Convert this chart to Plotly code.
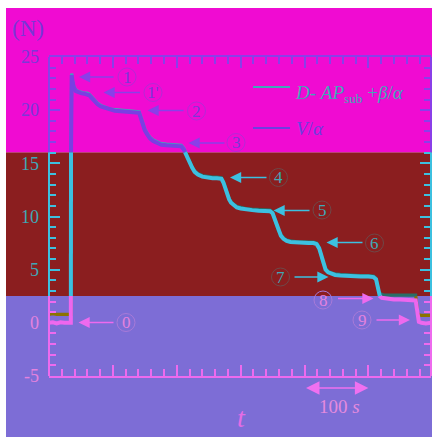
import plotly.graph_objects as go

# ---------------- data ----------------
time_s = [0, 6, 12, 18, 24, 30, 34.2, 34.6, 35.5, 37, 39, 42, 46, 50, 55, 60, 63, 66, 69, 72,
          76, 81, 88, 95, 103, 112, 120, 128, 136, 141, 143, 145, 147.5, 150, 154, 158, 163,
          169, 176, 184, 192, 200, 207, 211, 214, 217, 220, 224, 228, 233, 240, 248, 256, 263,
          270, 273, 276, 279, 282, 285, 289, 294, 300, 308, 318, 328, 338, 346, 350, 353, 356,
          359, 363, 367, 372, 378, 386, 396, 406, 414, 419, 423, 426, 429, 433, 437, 442, 448,
          456, 466, 476, 488, 500, 508, 512, 514, 516, 518, 521, 525, 532, 540, 550, 560, 568,
          574, 575.5, 577, 579, 583, 590, 598]

v_over_alpha = [0.0, 0.05, -0.05, 0.05, 0.0, 0.05, 0.0, 23.0, 23.3, 22.6, 22.1, 21.8, 21.65,
                21.6, 21.55, 21.5, 21.4, 21.2, 21.0, 20.8, 20.55, 20.35, 20.2, 20.05, 19.95,
                19.9, 19.85, 19.85, 19.8, 19.75, 19.4, 19.0, 18.5, 18.1, 17.7, 17.35, 17.1,
                16.9, 16.75, 16.7, 16.65, 16.65, 16.6, 16.3, 15.9, 15.4, 15.0, 14.6, 14.2,
                13.95, 13.75, 13.65, 13.6, 13.6, 13.55, 13.2, 12.6, 12.0, 11.6, 11.3, 11.05,
                10.85, 10.75, 10.65, 10.6, 10.55, 10.55, 10.5, 10.3, 9.8, 9.2, 8.6, 8.2, 7.9,
                7.7, 7.6, 7.55, 7.55, 7.5, 7.5, 7.4, 7.0, 6.3, 5.6, 5.0, 4.75, 4.6, 4.5, 4.45,
                4.4, 4.4, 4.35, 4.35, 4.3, 4.1, 3.4, 2.8, 2.5, 2.35, 2.3, 2.25, 2.2, 2.2, 2.15,
                2.15, 2.1, 1.5, 0.5, 0.1, 0.0, -0.05, 0.0]

d_ap_sub = [0.8, 0.85, 0.8, 0.8, 0.85, 0.8, 0.8, 23.1, 23.45, 22.7, 22.2, 21.9, 21.75,
            21.7, 21.6, 21.6, 21.5, 21.3, 21.1, 20.9, 20.65, 20.45, 20.3, 20.1, 20.05,
            20.0, 19.95, 19.9, 19.9, 19.85, 19.5, 19.1, 18.6, 18.2, 17.8, 17.45, 17.2,
            17.0, 16.85, 16.8, 16.75, 16.7, 16.7, 16.4, 16.0, 15.5, 15.1, 14.7, 14.3,
            14.05, 13.85, 13.75, 13.7, 13.7, 13.65, 13.3, 12.7, 12.1, 11.7, 11.4, 11.15,
            10.95, 10.85, 10.75, 10.7, 10.65, 10.65, 10.6, 10.4, 9.9, 9.3, 8.7, 8.3, 8.0,
            7.8, 7.7, 7.65, 7.65, 7.6, 7.6, 7.5, 7.1, 6.4, 5.7, 5.1, 4.85, 4.7, 4.6, 4.55,
            4.5, 4.5, 4.45, 4.45, 4.4, 4.2, 3.5, 3.0, 2.75, 2.65, 2.6, 2.6, 2.6, 2.6, 2.6,
            2.6, 2.6, 1.8, 0.9, 0.75, 0.7, 0.7, 0.7]

y_major_ticks = [25, 20, 15, 10, 5, 0, -5]
y_major_labels = ["25", "20", "15", "10", "5", "0", "-5"]
y_minor_ticks = [24, 23, 22, 21, 19, 18, 17, 16, 14, 13, 12, 11, 9, 8, 7, 6, 4, 3, 2, 1,
                 -1, -2, -3, -4]
x_major_step = 100
x_minor_step = 20

series_names = ["<i>D</i>- <i>AP</i><sub>sub</sub> +<i>β</i>/<i>α</i>", "<i>V</i>/<i>α</i>"]
callout_labels = ["1", "1'", "2", "3", "4", "5", "6", "7", "8", "9", "0"]
y_unit_label = "(N)"
x_axis_label = "<i>t</i>"
scale_label = "100 <i>s</i>"

# ---------------- layout / style ----------------
W, H = 432, 437
ML, MR, MT, MB = 49, 1, 57, 61
X_RANGE = [0, 598]
Y_RANGE = [-5, 25]
BAND_EDGES = [2.52, 16.05]          # y values where the background colour changes
SERIF = "Liberation Serif"

# index 0 = bottom band, 1 = middle band, 2 = top band
BAND_BG = ["#7D6DD6", "#8B1E1F", "#F00BD2"]
BAND_FRAME = ["#EE6AEE", "#3CC0E0", "#8A3FE8"]
BAND_TEXT = ["#E482DE", "#3FA8B6", "#7A38D8"]
BAND_CIRCLE = ["#A87AD8", "#6E4848", "#B42AD6"]
V_COLORS = ["#EE66EE", "#3CC0E0", "#7A3FE2"]
D_COLORS = ["#8B7300", "#2A6E68", "#3EA8B8"]

PW = W - ML - MR
PH = H - MT - MB


def px2x(px):
    return X_RANGE[0] + (px - ML) * (X_RANGE[1] - X_RANGE[0]) / PW


def py2y(py):
    return Y_RANGE[1] - (py - MT) * (Y_RANGE[1] - Y_RANGE[0]) / PH


def px2paper(px):
    return (px - ML) / PW


def py2paper(py):
    return (H - MB - py) / PH


def y2paper(v):
    return (v - Y_RANGE[0]) / (Y_RANGE[1] - Y_RANGE[0])


def band_of(v):
    if v < BAND_EDGES[0]:
        return 0
    if v < BAND_EDGES[1]:
        return 1
    return 2


def split_by_band(xs, ys):
    out = [([], []), ([], []), ([], [])]
    for i in range(len(xs) - 1):
        x0, y0, x1, y1 = xs[i], ys[i], xs[i + 1], ys[i + 1]
        pts = [(0.0, x0, y0)]
        for e in BAND_EDGES:
            if (y0 - e) * (y1 - e) < 0:
                f = (e - y0) / (y1 - y0)
                pts.append((f, x0 + f * (x1 - x0), e))
        pts.append((1.0, x1, y1))
        pts.sort()
        for a, b in zip(pts[:-1], pts[1:]):
            k = band_of((a[2] + b[2]) / 2)
            bx, by = out[k]
            if bx and bx[-1] == a[1] and by[-1] == a[2]:
                bx.append(b[1]); by.append(b[2])
            else:
                if bx:
                    bx.append(None); by.append(None)
                bx.extend([a[1], b[1]]); by.extend([a[2], b[2]])
    return out


fig = go.Figure()

# data curves, coloured by background band
for ys, colors, width in [(d_ap_sub, D_COLORS, 3.2), (v_over_alpha, V_COLORS, 4.0)]:
    parts = split_by_band(time_s, ys)
    for k in range(3):
        fig.add_trace(go.Scatter(x=parts[k][0], y=parts[k][1], mode="lines",
                                 line=dict(color=colors[k], width=width),
                                 showlegend=False, hoverinfo="skip"))

# empty traces so overlay axes are registered
fig.add_trace(go.Scatter(x=[], y=[], xaxis="x2", yaxis="y", showlegend=False))
fig.add_trace(go.Scatter(x=[], y=[], xaxis="x", yaxis="y2", showlegend=False))
fig.add_trace(go.Scatter(x=[], y=[], xaxis="x", yaxis="y3", showlegend=False))

shapes = []
# background bands
band_lo_paper = [py2paper(H + 5), y2paper(BAND_EDGES[0]), y2paper(BAND_EDGES[1])]
band_hi_paper = [y2paper(BAND_EDGES[0]), y2paper(BAND_EDGES[1]), py2paper(8)]
for k in range(3):
    shapes.append(dict(type="rect", xref="paper", yref="paper", layer="below",
                       x0=px2paper(6), x1=px2paper(W + 5),
                       y0=band_lo_paper[k], y1=band_hi_paper[k],
                       fillcolor=BAND_BG[k], line=dict(width=0)))

# left / right frame lines per band
band_lo = [Y_RANGE[0], BAND_EDGES[0], BAND_EDGES[1]]
band_hi = [BAND_EDGES[0], BAND_EDGES[1], Y_RANGE[1]]
for k in range(3):
    for xp in (0, 1):
        shapes.append(dict(type="line", xref="paper", yref="y", layer="above",
                           x0=xp, x1=xp, y0=band_lo[k], y1=band_hi[k],
                           line=dict(color=BAND_FRAME[k], width=2)))

annotations = []

# callouts: circle centre, arrow tail, arrow head (pixel positions)
callout_geom = [
    ((127, 77), (115, 77), (79, 77)),
    ((153, 92.5), (141.5, 92.5), (103.5, 92.5)),
    ((196.5, 111), (185, 110.5), (147.5, 110.5)),
    ((236, 142.5), (226, 143), (188.5, 143)),
    ((278.5, 177.5), (268, 177.5), (230, 177.5)),
    ((322, 210), (311, 210.5), (273.5, 210.5)),
    ((374.5, 243), (364, 242.5), (326.5, 242.5)),
    ((280.5, 277), (293, 277), (328.5, 277)),
    ((323, 300), (336.5, 298.5), (373.5, 298.5)),
    ((362, 320), (375, 320), (410, 320)),
    ((126, 322.5), (115, 322.5), (78.5, 322.5)),
]
R = 9
for label, (c, tail, head) in zip(callout_labels, callout_geom):
    k = band_of(py2y(c[1]))
    shapes.append(dict(type="circle", xref="x", yref="y", layer="above",
                       x0=px2x(c[0] - R), x1=px2x(c[0] + R),
                       y0=py2y(c[1] + R), y1=py2y(c[1] - R),
                       line=dict(color=BAND_CIRCLE[k], width=1)))
    annotations.append(dict(x=px2x(c[0]), y=py2y(c[1]), xref="x", yref="y", text=label,
                            showarrow=False, xanchor="center", yanchor="middle",
                            font=dict(family=SERIF, size=17, color=BAND_TEXT[k])))
    ka = band_of(py2y(head[1]))
    annotations.append(dict(x=px2x(head[0]), y=py2y(head[1]), xref="x", yref="y",
                            ax=px2x(tail[0]), ay=py2y(tail[1]), axref="x", ayref="y",
                            text="", showarrow=True, arrowhead=2, arrowsize=1.6,
                            arrowwidth=1.4, arrowcolor=BAND_FRAME[ka]))

# legend (drawn manually)
legend_rows = [(87, D_COLORS[2]), (128, "#6E3EE0")]
for name, (py, lcol) in zip(series_names, legend_rows):
    shapes.append(dict(type="line", xref="paper", yref="paper",
                       x0=px2paper(253), x1=px2paper(290), y0=py2paper(py), y1=py2paper(py),
                       line=dict(color=lcol, width=2)))
annotations.append(dict(x=px2paper(293), y=py2paper(80), xref="paper", yref="paper",
                        text=series_names[0], showarrow=False, xanchor="left", yanchor="top",
                        font=dict(family=SERIF, size=19, color="#3FA8B8")))
annotations.append(dict(x=px2paper(294), y=py2paper(128), xref="paper", yref="paper",
                        text=series_names[1], showarrow=False, xanchor="left", yanchor="middle",
                        font=dict(family=SERIF, size=19, color="#6E3EE0")))

# unit, axis label and scale bar
annotations.append(dict(x=px2paper(28), y=py2paper(28), xref="paper", yref="paper",
                        text=y_unit_label, showarrow=False, xanchor="center", yanchor="middle",
                        font=dict(family=SERIF, size=23, color="#7A36D6")))
annotations.append(dict(x=px2paper(242), y=py2paper(417), xref="paper", yref="paper",
                        text=x_axis_label, showarrow=False, xanchor="center", yanchor="middle",
                        font=dict(family=SERIF, size=28, color="#E46CE6")))
annotations.append(dict(x=px2paper(339), y=py2paper(406), xref="paper", yref="paper",
                        text=scale_label, showarrow=False, xanchor="center", yanchor="middle",
                        font=dict(family=SERIF, size=19, color="#E48ADE")))
bar_px = x_major_step * PW / (X_RANGE[1] - X_RANGE[0])
annotations.append(dict(x=400 + x_major_step, y=py2paper(388), xref="x", yref="paper",
                        ax=-bar_px, ay=0, axref="pixel", ayref="pixel", text="",
                        showarrow=True, arrowhead=2, startarrowhead=2, arrowside="end+start",
                        arrowsize=1.8, startarrowsize=1.8, arrowwidth=1.5, arrowcolor="#F070F0"))

# axes
common_x = dict(range=X_RANGE, showgrid=False, zeroline=False, showline=True, linewidth=2,
                ticks="inside", tickmode="linear", tick0=0, dtick=x_major_step, ticklen=11,
                tickwidth=2, showticklabels=False, fixedrange=True)
xaxis = dict(common_x, linecolor=BAND_FRAME[0], tickcolor=BAND_FRAME[0],
             minor=dict(ticks="inside", tickmode="linear", tick0=0, dtick=x_minor_step,
                        ticklen=7, tickwidth=2, tickcolor=BAND_FRAME[0]))
xaxis2 = dict(common_x, linecolor=BAND_FRAME[2], tickcolor=BAND_FRAME[2], side="top",
              overlaying="x", anchor="y",
              minor=dict(ticks="inside", tickmode="linear", tick0=0, dtick=x_minor_step,
                         ticklen=7, tickwidth=2, tickcolor=BAND_FRAME[2]))

yaxes = []
for k in (2, 1, 0):
    maj = [(v, t) for v, t in zip(y_major_ticks, y_major_labels) if band_of(v) == k]
    mnr = [v for v in y_minor_ticks if band_of(v) == k]
    ax = dict(range=Y_RANGE, showgrid=False, zeroline=False, showline=False,
              tickmode="array", tickvals=[m[0] for m in maj], ticktext=[m[1] for m in maj],
              ticks="inside", ticklen=11, tickwidth=2, tickcolor=BAND_FRAME[k],
              minor=dict(ticks="inside", tickmode="array", tickvals=mnr, ticklen=7,
                         tickwidth=2, tickcolor=BAND_FRAME[k]),
              mirror="ticks", ticklabelstandoff=9,
              tickfont=dict(family=SERIF, size=18, color=BAND_TEXT[k]), fixedrange=True)
    yaxes.append(ax)
yaxes[1].update(overlaying="y", anchor="x", side="left")
yaxes[2].update(overlaying="y", anchor="x", side="left")

fig.update_layout(
    width=W, height=H, margin=dict(l=ML, r=MR, t=MT, b=MB, pad=0),
    paper_bgcolor="white", plot_bgcolor="rgba(0,0,0,0)",
    xaxis=xaxis, xaxis2=xaxis2, yaxis=yaxes[0], yaxis2=yaxes[1], yaxis3=yaxes[2],
    shapes=shapes, annotations=annotations, showlegend=False,
)

fig.write_html("out.html", config={"displayModeBar": False})
